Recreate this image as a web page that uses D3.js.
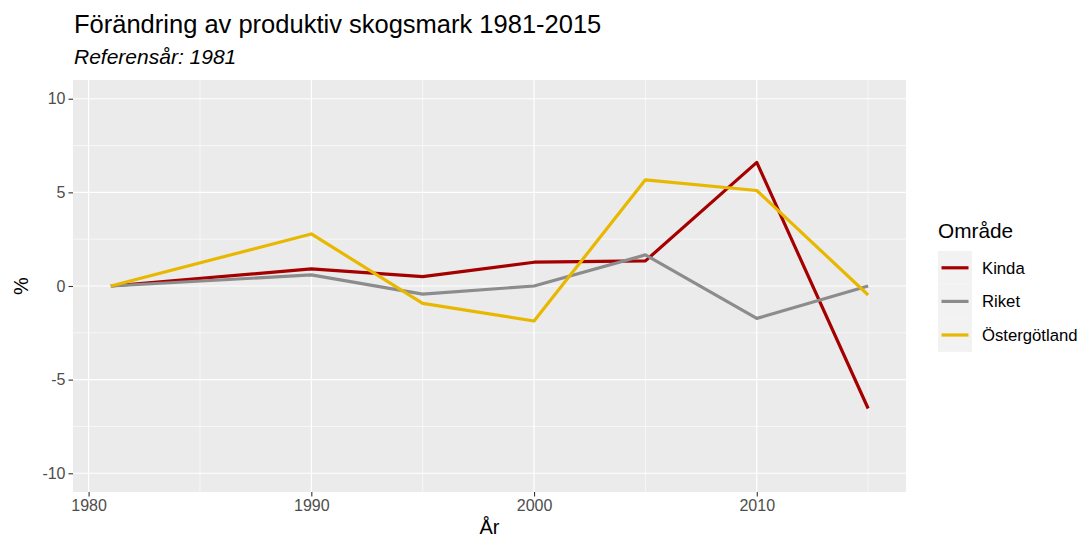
<!DOCTYPE html>
<html>
<head>
<meta charset="utf-8">
<script src="https://cdn.jsdelivr.net/npm/d3@7"></script>
<style>
  body { margin: 0; background: #ffffff; }
  text { font-family: "Liberation Sans", Arial, sans-serif; }
</style>
</head>
<body>
<script>
"use strict";

// data
var years = [1981, 1990, 1995, 2000, 2005, 2010, 2015];
var kinda = [0, 0.91, 0.50, 1.27, 1.34, 6.60, -6.54];
var riket = [0, 0.59, -0.43, 0, 1.66, -1.73, 0];
var ostergotland = [0, 2.78, -0.93, -1.87, 5.67, 5.10, -0.48];
var seriesNames = ["Kinda", "Riket", "Östergötland"];
var seriesColors = ["#a50000", "#8c8c8c", "#e8b800"];
var xTicks = [1980, 1990, 2000, 2010];
var yTicks = [-10, -5, 0, 5, 10];

var margin = {top: 80, right: 175, bottom: 47, left: 73};
var width = 1081 - margin.left - margin.right;
var height = 539 - margin.top - margin.bottom;

var svg = d3.select('body').append('svg')
  .attr('width', 1081)
  .attr('height', 539);

// titles
svg.append('text')
  .attr('x', 74).attr('y', 33)
  .style('font-size', '25.5px')
  .attr('fill', '#000')
  .text('Förändring av produktiv skogsmark 1981-2015');

svg.append('text')
  .attr('x', 74).attr('y', 64)
  .style('font-size', '21px')
  .style('font-style', 'italic')
  .attr('fill', '#000')
  .text('Referensår: 1981');

var chart = svg.append('g')
  .attr('transform', 'translate(' + margin.left + ',' + margin.top + ')');

// scales, with ggplot's 5% expansion
var xExt = d3.extent(years);
var xPad = (xExt[1] - xExt[0]) * 0.05;
var x = d3.scaleLinear()
  .domain([xExt[0] - xPad, xExt[1] + xPad])
  .range([0, width]);

var y = d3.scaleLinear()
  .domain([-11, 11])
  .range([height, 0]);

// panel background
chart.append('rect')
  .attr('width', width)
  .attr('height', height)
  .attr('fill', '#ebebeb');

// minor grid
var xMinor = [1985, 1995, 2005, 2015];
var yMinor = [-7.5, -2.5, 2.5, 7.5];

chart.selectAll('.xminor').data(xMinor).enter().append('line')
  .attr('x1', function(d) { return x(d); })
  .attr('x2', function(d) { return x(d); })
  .attr('y1', 0).attr('y2', height)
  .attr('stroke', '#fff').attr('stroke-width', 0.6);

chart.selectAll('.yminor').data(yMinor).enter().append('line')
  .attr('y1', function(d) { return y(d); })
  .attr('y2', function(d) { return y(d); })
  .attr('x1', 0).attr('x2', width)
  .attr('stroke', '#fff').attr('stroke-width', 0.6);

// major grid
chart.selectAll('.xmajor').data(xTicks).enter().append('line')
  .attr('x1', function(d) { return x(d); })
  .attr('x2', function(d) { return x(d); })
  .attr('y1', 0).attr('y2', height)
  .attr('stroke', '#fff').attr('stroke-width', 1.2);

chart.selectAll('.ymajor').data(yTicks).enter().append('line')
  .attr('y1', function(d) { return y(d); })
  .attr('y2', function(d) { return y(d); })
  .attr('x1', 0).attr('x2', width)
  .attr('stroke', '#fff').attr('stroke-width', 1.2);

// axes (plain hyphen for negatives, like the original)
var plain = function(d) { return String(d); };

var xAxis = d3.axisBottom(x)
  .tickValues(xTicks)
  .tickFormat(plain)
  .tickSize(4.5)
  .tickPadding(3);

var yAxis = d3.axisLeft(y)
  .tickValues(yTicks)
  .tickFormat(plain)
  .tickSize(4.5)
  .tickPadding(3);

var gx = chart.append('g')
  .attr('transform', 'translate(0,' + height + ')')
  .call(xAxis);

var gy = chart.append('g')
  .call(yAxis);

[gx, gy].forEach(function(g) {
  g.select('.domain').remove();
  g.selectAll('.tick line').attr('stroke', '#333').attr('stroke-width', 1.1);
  g.selectAll('.tick text')
    .attr('fill', '#4d4d4d')
    .style('font-size', '16px')
    .style('font-family', '"Liberation Sans", Arial, sans-serif');
});

// axis titles
svg.append('text')
  .attr('x', margin.left + width / 2)
  .attr('y', 534)
  .attr('text-anchor', 'middle')
  .style('font-size', '20px')
  .text('År');

svg.append('text')
  .attr('transform', 'translate(28,' + (margin.top + y(0)) + ') rotate(-90)')
  .attr('text-anchor', 'middle')
  .style('font-size', '20px')
  .text('%');

// lines
var seriesData = [kinda, riket, ostergotland];
var line = d3.line()
  .x(function(d, i) { return x(years[i]); })
  .y(function(d) { return y(d); });

chart.selectAll('.series').data(seriesData).enter().append('path')
  .attr('d', line)
  .attr('fill', 'none')
  .attr('stroke', function(d, i) { return seriesColors[i]; })
  .attr('stroke-width', 3.2)
  .attr('stroke-linejoin', 'round');

// legend
var legend = svg.append('g')
  .attr('transform', 'translate(938,251)');

legend.append('text')
  .attr('x', 0).attr('y', -13)
  .style('font-size', '20.8px')
  .text('Område');

var keyH = 33.6;
var items = legend.selectAll('.item').data(seriesNames).enter().append('g')
  .attr('transform', function(d, i) { return 'translate(0,' + (i * keyH) + ')'; });

items.append('rect')
  .attr('width', 34)
  .attr('height', keyH)
  .attr('fill', '#f2f2f2');

items.append('line')
  .attr('x1', 3.5).attr('x2', 30.5)
  .attr('y1', keyH / 2).attr('y2', keyH / 2)
  .attr('stroke', function(d, i) { return seriesColors[i]; })
  .attr('stroke-width', 3.2);

items.append('text')
  .attr('x', 44)
  .attr('y', keyH / 2)
  .attr('dy', '0.36em')
  .style('font-size', '16.7px')
  .text(function(d) { return d; });
</script>
</body>
</html>
